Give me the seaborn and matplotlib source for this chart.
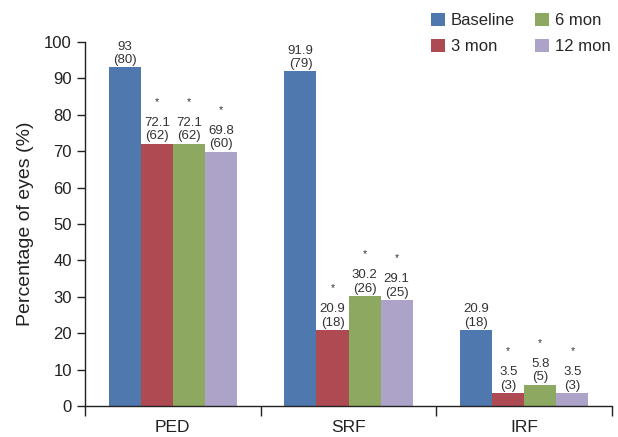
import pandas as pd
import numpy as np
import matplotlib
matplotlib.use("Agg")
import matplotlib.pyplot as plt
import seaborn as sns

categories = ["PED", "SRF", "IRF"]
timepoints = ["Baseline", "3 mon", "6 mon", "12 mon"]
baseline = [93, 91.9, 20.9]
mon3 = [72.1, 20.9, 3.5]
mon6 = [72.1, 30.2, 5.8]
mon12 = [69.8, 29.1, 3.5]
n_baseline = [80, 79, 18]
n_mon3 = [62, 18, 3]
n_mon6 = [62, 26, 5]
n_mon12 = [60, 25, 3]
value_labels = {
    "Baseline": ["93", "91.9", "20.9"],
    "3 mon": ["72.1", "20.9", "3.5"],
    "6 mon": ["72.1", "30.2", "5.8"],
    "12 mon": ["69.8", "29.1", "3.5"],
}
colors = ["#4E78AE", "#AE4A51", "#8CA861", "#ADA3C8"]

sns.set_style("white")
plt.rcParams["font.family"] = ["Liberation Sans", "DejaVu Sans"]

rows = []
for tp, vals, ns in zip(timepoints,
                        [baseline, mon3, mon6, mon12],
                        [n_baseline, n_mon3, n_mon6, n_mon12]):
    for cat, v, n in zip(categories, vals, ns):
        rows.append({"category": cat, "time": tp, "pct": v, "n": n})
df = pd.DataFrame(rows)

fig = plt.figure(figsize=(6.18, 4.37), dpi=100)
ax = fig.add_axes([0.1375, 0.071, 0.853, 0.833])

sns.barplot(data=df, x="category", y="pct", hue="time", order=categories,
            hue_order=timepoints, palette=colors, width=0.73, saturation=1,
            edgecolor="none", linewidth=0, ax=ax, legend=True)

for tp, cont in zip(timepoints, ax.containers):
    sub = df[df["time"] == tp].set_index("category").loc[categories]
    for bar, lab, n in zip(cont, value_labels[tp], sub["n"]):
        x = bar.get_x() + bar.get_width() / 2
        h = bar.get_height()
        ax.annotate(f"{lab}\n({n})", (x, h), xytext=(0, 1), textcoords="offset points",
                    ha="center", va="bottom", fontsize=9.5, color="#333333",
                    linespacing=1.15)
        if tp != "Baseline":
            ax.annotate("*", (x, h), xytext=(0, 26.5), textcoords="offset points",
                        ha="center", va="bottom", fontsize=7.5, color="#333333")

ax.set_ylim(0, 100)
ax.set_xlim(-0.5, 2.5)
ax.set_yticks(np.arange(0, 101, 10))
ax.set_xlabel("")
ax.set_ylabel("Percentage of eyes (%)", fontsize=14, color="#222222", labelpad=7)
ax.tick_params(axis="y", direction="out", length=6, width=1, colors="#222222",
               labelsize=12, left=True)
ax.tick_params(axis="x", which="major", length=0, labelsize=12.5, colors="#222222", pad=10)
ax.set_xticks([-0.5, 0.5, 1.5, 2.5], minor=True)
ax.tick_params(axis="x", which="minor", direction="out", length=7, width=1,
               color="#222222", bottom=True)
for s in ["top", "right"]:
    ax.spines[s].set_visible(False)
for s in ["left", "bottom"]:
    ax.spines[s].set_color("#222222")
    ax.spines[s].set_linewidth(1)

handles, labels = ax.get_legend_handles_labels()
ax.get_legend().remove()
fig.legend(handles, labels, ncol=2, loc="upper right", bbox_to_anchor=(1.012, 1.004),
           frameon=False, fontsize=12, handlelength=0.8, handleheight=0.8,
           handletextpad=0.35, columnspacing=1.25, labelspacing=0.65)

fig.savefig("out.png", dpi=100)
